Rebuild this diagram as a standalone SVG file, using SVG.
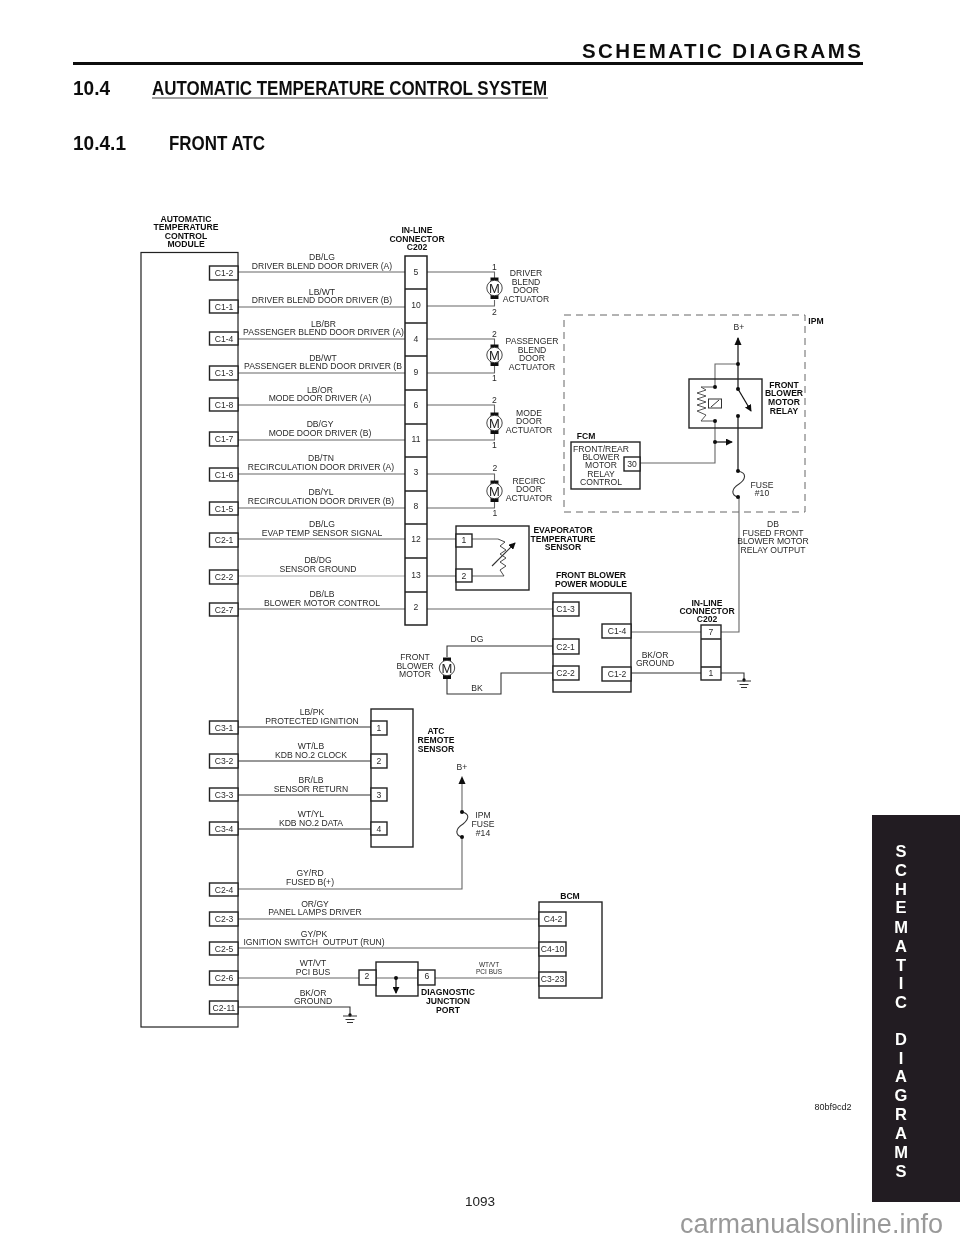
<svg xmlns="http://www.w3.org/2000/svg" width="960" height="1242" viewBox="0 0 960 1242">
<style>
text{font-family:"Liberation Sans",Arial,sans-serif;fill:#222}
.l{font-size:8.6px;text-anchor:middle;fill:#2a2a2a}
.b{font-size:8.6px;font-weight:bold;text-anchor:middle;fill:#111}
.p{font-size:8.6px;text-anchor:middle;fill:#2a2a2a}
.box{fill:#fff;stroke:#222;stroke-width:1.2}
.pin{fill:#fff;stroke:#222;stroke-width:1.4}
.nf{fill:none}
.w{fill:none;stroke:#666;stroke-width:1.1}
.k{fill:none;stroke:#333;stroke-width:1.1}
.t{fill:none;stroke:#111;stroke-width:1.2}
.h{font-size:21px;font-weight:bold;fill:#111}
.s{font-size:16.5px;font-weight:bold;text-anchor:middle;fill:#fff}
.d{fill:#111}
.wm{fill:#999;font-size:27px}
</style>
<defs>
<filter id="soft" filterUnits="userSpaceOnUse" x="0" y="0" width="960" height="1242"><feGaussianBlur stdDeviation="0.3"/></filter>
<g id="motor"><rect x="-4" y="-10.5" width="8" height="4" fill="#111"/><rect x="-4" y="7" width="8" height="4" fill="#111"/><circle r="7.7" fill="#fff" stroke="#333" stroke-width="0.9"/><text y="4.6" font-size="13" text-anchor="middle">M</text></g>
<g id="gnd"><circle cy="0" r="1.7" fill="#111"/><path d="M-7 1H7M-4.5 4.5H4.5M-3 7.5H3" fill="none" stroke="#333" stroke-width="1"/></g>
<marker id="ar" viewBox="0 0 8 8" refX="7" refY="4" markerWidth="7" markerHeight="7" orient="auto" markerUnits="userSpaceOnUse"><path d="M0 0L8 4L0 8Z" fill="#111"/></marker>
</defs>
<rect width="960" height="1242" fill="#fff"/>
<g filter="url(#soft)">
<g id="page">
<text x="582" y="58" font-size="20.5" font-weight="bold" textLength="279" lengthAdjust="spacing" style="fill:#111">SCHEMATIC DIAGRAMS</text>
<rect x="73" y="62" width="790" height="3" fill="#111"/>
<text class="h" x="73" y="95" textLength="37" lengthAdjust="spacingAndGlyphs">10.4</text>
<text class="h" x="152" y="95" textLength="395" lengthAdjust="spacingAndGlyphs">AUTOMATIC TEMPERATURE CONTROL SYSTEM</text>
<rect x="152" y="97.5" width="396" height="1" fill="#444"/>
<text class="h" x="73" y="150" textLength="53" lengthAdjust="spacingAndGlyphs">10.4.1</text>
<text class="h" x="169" y="150" textLength="96" lengthAdjust="spacingAndGlyphs">FRONT ATC</text>
<text x="480" y="1206" font-size="13.5" text-anchor="middle">1093</text>
<text x="833" y="1110" font-size="9" text-anchor="middle">80bf9cd2</text>
<text class="wm" x="680" y="1233" textLength="263">carmanualsonline.info</text>
</g>
<g id="sidebar">
<rect x="872" y="815" width="88" height="387" fill="#231f20"/>
<text class="s" x="901" y="857">S</text><text class="s" x="901" y="876">C</text><text class="s" x="901" y="895">H</text><text class="s" x="901" y="913">E</text><text class="s" x="901" y="932.5">M</text><text class="s" x="901" y="951.5">A</text><text class="s" x="901" y="970.5">T</text><text class="s" x="901" y="988.5">I</text><text class="s" x="901" y="1007.5">C</text><text class="s" x="901" y="1045">D</text><text class="s" x="901" y="1063.5">I</text><text class="s" x="901" y="1082">A</text><text class="s" x="901" y="1101">G</text><text class="s" x="901" y="1120">R</text><text class="s" x="901" y="1139">A</text><text class="s" x="901" y="1158">M</text><text class="s" x="901" y="1177">S</text>
</g>
<g id="connectors">
<path class="w" d="M238 272H405M238 307H405M238 339H405M238 373H405M238 405H405M238 440H405M238 474H405M238 508H405M238 539H405M238 609H405"/>
<path d="M238 576H405" fill="none" stroke="#aaa" stroke-width="1.1"/>
<path class="w" d="M427 272H494.5V278M427 306H494.5V300M427 339H494.5V345M427 373H494.5V366M427 405H494.5V413M427 440H494.5V434M427 474H494.5V481M427 508H494.5V502"/>
<path class="w" d="M427 539H456M427 576H456M427 609H553"/>
<path class="w" d="M472 539H498M472 576H504"/>
<path class="k" d="M447 657V646H553M447 679V694H501V673H553"/>
<path class="w" d="M631 632H701M721 632H739V497"/>
<path class="k" d="M631 673H701M721 673H744V680"/>
<path class="k" d="M238 727H371M238 761H371M238 795H371M238 829H371"/>
<path class="w" d="M238 889H462V837M462 812V779"/>
<path class="w" d="M238 919H539M238 948H539M238 978H359M376 978H418M435 978H539"/>
<path class="k" d="M238 1007H350V1014"/>
<path class="w" d="M640 463H715V442M715 442V421M715 387V364H738"/>
<path class="t" d="M738 338V389M738 416V471"/>
<path class="t" d="M715 442H732" marker-end="url(#ar)"/>
<path d="M738 471C748 473 745 480 739 484C731 489 731 495 738 497M462 812C471 814 468 820 463 824C455 829 455 835 462 837" fill="none" stroke="#333" stroke-width="1.1"/>
<path d="M734.5 345L738 337L741.5 345ZM458.5 784L462 776L465.5 784Z" fill="#111"/>
</g>
<g id="module"><rect class="box" x="141" y="252.5" width="97" height="774.5"/>
<g id="pins"><rect class="pin" x="209.5" y="266" width="28.5" height="14"/><text class="p" x="224" y="276">C1-2</text>
<rect class="pin" x="209.5" y="300" width="28.5" height="13"/><text class="p" x="224" y="310">C1-1</text>
<rect class="pin" x="209.5" y="332" width="28.5" height="13"/><text class="p" x="224" y="342">C1-4</text>
<rect class="pin" x="209.5" y="366" width="28.5" height="14"/><text class="p" x="224" y="376">C1-3</text>
<rect class="pin" x="209.5" y="398" width="28.5" height="13"/><text class="p" x="224" y="408">C1-8</text>
<rect class="pin" x="209.5" y="432" width="28.5" height="14"/><text class="p" x="224" y="442">C1-7</text>
<rect class="pin" x="209.5" y="468" width="28.5" height="13"/><text class="p" x="224" y="478">C1-6</text>
<rect class="pin" x="209.5" y="502" width="28.5" height="13"/><text class="p" x="224" y="512">C1-5</text>
<rect class="pin" x="209.5" y="533" width="28.5" height="14"/><text class="p" x="224" y="543">C2-1</text>
<rect class="pin" x="209.5" y="570" width="28.5" height="14"/><text class="p" x="224" y="580">C2-2</text>
<rect class="pin" x="209.5" y="603" width="28.5" height="13"/><text class="p" x="224" y="613">C2-7</text>
<rect class="pin" x="209.5" y="721" width="28.5" height="13"/><text class="p" x="224" y="731">C3-1</text>
<rect class="pin" x="209.5" y="754" width="28.5" height="14"/><text class="p" x="224" y="764">C3-2</text>
<rect class="pin" x="209.5" y="788" width="28.5" height="13"/><text class="p" x="224" y="798">C3-3</text>
<rect class="pin" x="209.5" y="822" width="28.5" height="13"/><text class="p" x="224" y="832">C3-4</text>
<rect class="pin" x="209.5" y="883" width="28.5" height="13"/><text class="p" x="224" y="893">C2-4</text>
<rect class="pin" x="209.5" y="912" width="28.5" height="14"/><text class="p" x="224" y="922">C2-3</text>
<rect class="pin" x="209.5" y="942" width="28.5" height="13"/><text class="p" x="224" y="952">C2-5</text>
<rect class="pin" x="209.5" y="971" width="28.5" height="14"/><text class="p" x="224" y="981">C2-6</text>
<rect class="pin" x="209.5" y="1001" width="28.5" height="13"/><text class="p" x="224" y="1011">C2-11</text></g>
<text class="b" x="186" y="222">AUTOMATIC</text><text class="b" x="186" y="230">TEMPERATURE</text><text class="b" x="186" y="239">CONTROL</text><text class="b" x="186" y="247">MODULE</text></g>
<g id="wire-labels">
<text class="l" x="322" y="260">DB/LG</text><text class="l" x="322" y="269">DRIVER BLEND DOOR DRIVER (A)</text>
<text class="l" x="322" y="295">LB/WT</text><text class="l" x="322" y="303">DRIVER BLEND DOOR DRIVER (B)</text>
<text class="l" x="323.5" y="327">LB/BR</text><text class="l" x="323.5" y="335">PASSENGER BLEND DOOR DRIVER (A)</text>
<text class="l" x="323" y="361">DB/WT</text><text class="l" x="323" y="369">PASSENGER BLEND DOOR DRIVER (B</text>
<text class="l" x="320" y="393">LB/OR</text><text class="l" x="320" y="401">MODE DOOR DRIVER (A)</text>
<text class="l" x="320" y="427">DB/GY</text><text class="l" x="320" y="436">MODE DOOR DRIVER (B)</text>
<text class="l" x="321" y="461">DB/TN</text><text class="l" x="321" y="470">RECIRCULATION DOOR DRIVER (A)</text>
<text class="l" x="321" y="495">DB/YL</text><text class="l" x="321" y="504">RECIRCULATION DOOR DRIVER (B)</text>
<text class="l" x="322" y="527">DB/LG</text><text class="l" x="322" y="536">EVAP TEMP SENSOR SIGNAL</text>
<text class="l" x="318" y="563">DB/DG</text><text class="l" x="318" y="572">SENSOR GROUND</text>
<text class="l" x="322" y="597">DB/LB</text><text class="l" x="322" y="606">BLOWER MOTOR CONTROL</text>
<text class="l" x="312" y="715">LB/PK</text><text class="l" x="312" y="724">PROTECTED IGNITION</text>
<text class="l" x="311" y="749">WT/LB</text><text class="l" x="311" y="758">KDB NO.2 CLOCK</text>
<text class="l" x="311" y="783">BR/LB</text><text class="l" x="311" y="792">SENSOR RETURN</text>
<text class="l" x="311" y="817">WT/YL</text><text class="l" x="311" y="826">KDB NO.2 DATA</text>
<text class="l" x="310" y="876">GY/RD</text><text class="l" x="310" y="885">FUSED B(+)</text>
<text class="l" x="315" y="907">OR/GY</text><text class="l" x="315" y="915">PANEL LAMPS DRIVER</text>
<text class="l" x="314" y="937">GY/PK</text><text class="l" x="314" y="945" xml:space="preserve">IGNITION SWITCH  OUTPUT (RUN)</text>
<text class="l" x="313" y="966">WT/VT</text><text class="l" x="313" y="975">PCI BUS</text>
<text class="l" x="313" y="996">BK/OR</text><text class="l" x="313" y="1004">GROUND</text>
<text class="l" x="489" y="967" style="font-size:6.5px">WT/VT</text><text class="l" x="489" y="974" style="font-size:6.5px">PCI BUS</text>
<text class="l" x="477" y="642">DG</text><text class="l" x="477" y="691">BK</text>
<text class="l" x="655" y="658">BK/OR</text><text class="l" x="655" y="666">GROUND</text>
<text class="l" x="773" y="527">DB</text><text class="l" x="773" y="536">FUSED FRONT</text><text class="l" x="773" y="544">BLOWER MOTOR</text><text class="l" x="773" y="553">RELAY OUTPUT</text>
</g>
<g id="c202-a"><rect class="pin" x="405" y="256" width="22" height="369" style="stroke-width:1.5"/>
<path d="M405 289H427M405 323H427M405 356H427M405 390H427M405 424H427M405 457H427M405 491H427M405 524H427M405 558H427M405 592H427" stroke="#222" stroke-width="1.4" fill="none"/>
<text class="p" x="416" y="275">5</text><text class="p" x="416" y="308">10</text><text class="p" x="416" y="342">4</text><text class="p" x="416" y="375">9</text><text class="p" x="416" y="408">6</text><text class="p" x="416" y="442">11</text><text class="p" x="416" y="475">3</text><text class="p" x="416" y="509">8</text><text class="p" x="416" y="542">12</text><text class="p" x="416" y="578">13</text><text class="p" x="416" y="610">2</text>
<text class="b" x="417" y="233">IN-LINE</text><text class="b" x="417" y="242">CONNECTOR</text><text class="b" x="417" y="250">C202</text></g>
<g id="driver-actuator"><use href="#motor" x="494.5" y="288"/><text class="p" x="494.5" y="270">1</text><text class="p" x="494.5" y="315">2</text><text class="l" x="526" y="276">DRIVER</text><text class="l" x="526" y="285">BLEND</text><text class="l" x="526" y="293">DOOR</text><text class="l" x="526" y="302">ACTUATOR</text></g>
<g id="passenger-actuator"><use href="#motor" x="494.5" y="355"/><text class="p" x="494.5" y="337">2</text><text class="p" x="494.5" y="381">1</text><text class="l" x="532" y="344">PASSENGER</text><text class="l" x="532" y="353">BLEND</text><text class="l" x="532" y="361">DOOR</text><text class="l" x="532" y="370">ACTUATOR</text></g>
<g id="mode-actuator"><use href="#motor" x="494.5" y="423"/><text class="p" x="494.5" y="403">2</text><text class="p" x="494.5" y="448">1</text><text class="l" x="529" y="416">MODE</text><text class="l" x="529" y="424">DOOR</text><text class="l" x="529" y="433">ACTUATOR</text></g>
<g id="recirc-actuator"><use href="#motor" x="494.5" y="491"/><text class="p" x="495" y="471">2</text><text class="p" x="495" y="516">1</text><text class="l" x="529" y="484">RECIRC</text><text class="l" x="529" y="492">DOOR</text><text class="l" x="529" y="501">ACTUATOR</text></g>
<g id="ipm"><rect x="564" y="315" width="241" height="197" fill="none" stroke="#666" stroke-dasharray="7 5"/><text class="b" x="816" y="324">IPM</text></g>
<g id="relay"><rect x="689" y="379" width="73" height="49" fill="none" stroke="#222" stroke-width="1.4"/>
<path d="M715 387H701L706 390L697 393L706 396L697 399L706 402L697 405L706 408L697 411L706 415L701 421H715" fill="none" stroke="#444" stroke-width="0.9"/>
<rect x="708.5" y="399" width="13" height="9" fill="#fff" stroke="#333"/><path d="M711 407L719 400" stroke="#333" fill="none"/>
<path class="t" d="M738 389L751 411" marker-end="url(#ar)"/>
<circle class="d" cx="738" cy="364" r="2"/><circle class="d" cx="715" cy="387" r="2"/><circle class="d" cx="715" cy="421" r="2"/><circle class="d" cx="738" cy="389" r="2"/><circle class="d" cx="738" cy="416" r="2"/><circle class="d" cx="715" cy="442" r="2"/><circle class="d" cx="738" cy="471" r="2"/><circle class="d" cx="738" cy="497" r="2"/>
<text class="l" x="739" y="330">B+</text>
<text class="b" x="784" y="388">FRONT</text><text class="b" x="784" y="396">BLOWER</text><text class="b" x="784" y="405">MOTOR</text><text class="b" x="784" y="414">RELAY</text>
<text class="l" x="762" y="488">FUSE</text><text class="l" x="762" y="496">#10</text></g>
<g id="fcm"><rect class="pin" x="571" y="442" width="69" height="47"/><rect class="pin" x="624" y="457" width="16" height="14"/><text class="p" x="632" y="467">30</text>
<text class="b" x="586" y="439">FCM</text><text class="l" x="601" y="452">FRONT/REAR</text><text class="l" x="601" y="460">BLOWER</text><text class="l" x="601" y="468">MOTOR</text><text class="l" x="601" y="476.5">RELAY</text><text class="l" x="601" y="485">CONTROL</text></g>
<g id="evap"><rect class="pin nf" x="456" y="526" width="73" height="64"/><rect class="pin" x="456" y="534" width="16" height="13"/><text class="p" x="464" y="543">1</text><rect class="pin" x="456" y="569" width="16" height="13"/><text class="p" x="464" y="579">2</text>
<path d="M498 539L505 542L500 546L506 550L500 554L506 558L500 562L506 566L500 570L504 576" fill="none" stroke="#333" stroke-width="0.9"/>
<path class="k" d="M492 566L515 543" marker-end="url(#ar)"/>
<text class="b" x="563" y="533">EVAPORATOR</text><text class="b" x="563" y="542">TEMPERATURE</text><text class="b" x="563" y="550">SENSOR</text></g>
<g id="front-blower-module"><rect class="pin" x="553" y="593" width="78" height="99"/>
<rect class="pin" x="553" y="602" width="26" height="14"/><text class="p" x="565.5" y="612">C1-3</text>
<rect class="pin" x="553" y="639" width="26" height="15"/><text class="p" x="565.5" y="650">C2-1</text>
<rect class="pin" x="553" y="666" width="26" height="14"/><text class="p" x="565.5" y="676">C2-2</text>
<rect class="pin" x="602" y="624" width="29" height="14"/><text class="p" x="617" y="634">C1-4</text>
<rect class="pin" x="602" y="667" width="29" height="14"/><text class="p" x="617" y="677">C1-2</text>
<text class="b" x="591" y="578">FRONT BLOWER</text><text class="b" x="591" y="587">POWER MODULE</text></g>
<g id="front-blower-motor"><use href="#motor" x="447" y="668"/><text class="l" x="415" y="660">FRONT</text><text class="l" x="415" y="669">BLOWER</text><text class="l" x="415" y="677">MOTOR</text></g>
<g id="c202-b"><rect class="pin" x="701" y="625" width="20" height="55"/><path d="M701 639H721M701 667H721" stroke="#222" stroke-width="1.4"/><text class="p" x="711" y="635">7</text><text class="p" x="711" y="676">1</text>
<text class="b" x="707" y="606">IN-LINE</text><text class="b" x="707" y="614">CONNECTOR</text><text class="b" x="707" y="622">C202</text></g>
<g id="ground-a"><use href="#gnd" x="744" y="680"/></g>
<g id="ground-b"><use href="#gnd" x="350" y="1015"/></g>
<g id="atc-remote"><rect class="pin" x="371" y="709" width="42" height="138"/>
<rect class="pin" x="371" y="721" width="16" height="14"/><text class="p" x="379" y="731">1</text><rect class="pin" x="371" y="754" width="16" height="14"/><text class="p" x="379" y="764">2</text><rect class="pin" x="371" y="788" width="16" height="13"/><text class="p" x="379" y="798">3</text><rect class="pin" x="371" y="822" width="16" height="13"/><text class="p" x="379" y="832">4</text>
<text class="b" x="436" y="734">ATC</text><text class="b" x="436" y="743">REMOTE</text><text class="b" x="436" y="752">SENSOR</text></g>
<g id="ipm-fuse"><circle class="d" cx="462" cy="812" r="2"/><circle class="d" cx="462" cy="837" r="2"/><text class="l" x="462" y="770">B+</text><text class="l" x="483" y="818">IPM</text><text class="l" x="483" y="827">FUSE</text><text class="l" x="483" y="836">#14</text></g>
<g id="bcm"><rect class="pin nf" x="539" y="902" width="63" height="96"/>
<rect class="pin" x="539" y="912" width="27" height="14"/><text class="p" x="553" y="922">C4-2</text><rect class="pin" x="539" y="942" width="27" height="14"/><text class="p" x="552.5" y="952">C4-10</text><rect class="pin" x="539" y="972" width="27" height="14"/><text class="p" x="552.5" y="982">C3-23</text>
<text class="b" x="570" y="899">BCM</text></g>
<g id="djp"><rect class="pin" x="376" y="962" width="42" height="34"/><path class="w" d="M376 978H418"/><rect class="pin" x="359" y="970" width="17" height="15"/><text class="p" x="367" y="979">2</text><rect class="pin" x="418" y="970" width="17" height="15"/><text class="p" x="427" y="979">6</text>
<circle class="d" cx="396" cy="978" r="2"/><path class="t" d="M396 978V993" marker-end="url(#ar)"/>
<text class="b" x="448" y="995">DIAGNOSTIC</text><text class="b" x="448" y="1004">JUNCTION</text><text class="b" x="448" y="1013">PORT</text></g>
</g>
</svg>
